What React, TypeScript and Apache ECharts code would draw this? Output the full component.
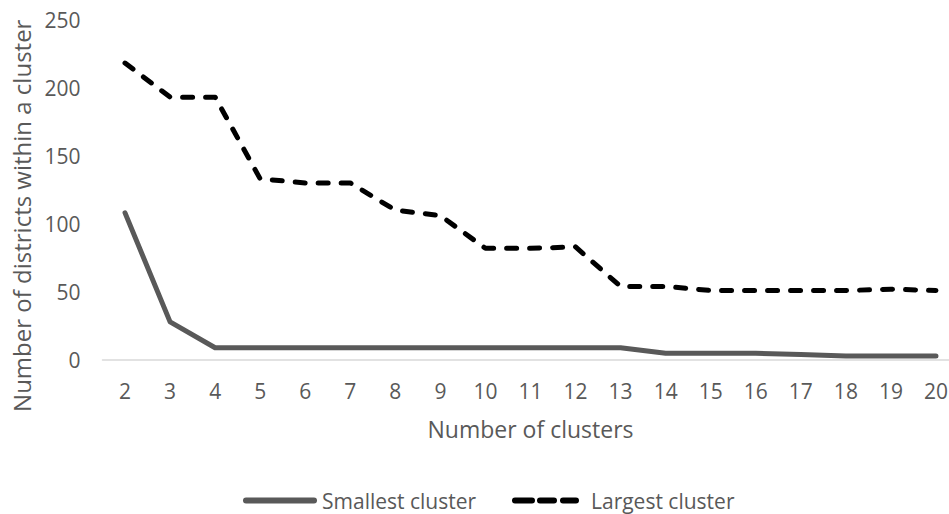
import React, { useEffect, useRef } from "react";
import * as echarts from "echarts";

const categories = ["2", "3", "4", "5", "6", "7", "8", "9", "10", "11", "12", "13", "14", "15", "16", "17", "18", "19", "20"];
const smallestCluster = [108, 28, 9, 9, 9, 9, 9, 9, 9, 9, 9, 9, 5, 5, 5, 4, 3, 3, 3];
const largestCluster = [218, 193, 193, 133, 130, 130, 110, 106, 82, 82, 83, 54, 54, 51, 51, 51, 51, 52, 51];
const yTicks = { min: 0, max: 250, interval: 50 };
const seriesNames = ["Smallest cluster", "Largest cluster"];

const FONT = "'Open Sans', sans-serif";
const TEXT = "#595959";

function seg(a: number, b: number, h: number) {
  const r = h / 2;
  return `M${a + r},0 L${b - r},0 A${r},${r} 0 0 1 ${b - r},${h} L${a + r},${h} A${r},${r} 0 0 1 ${a + r},0 Z`;
}

export default function App() {
  const ref = useRef<HTMLDivElement>(null);
  useEffect(() => {
    if (!ref.current) return;
    const chart = echarts.init(ref.current, null, { renderer: "svg" });
    const solidIcon = "path://" + seg(0, 74, 6);
    const dashIcon = "path://" + seg(0, 23, 6) + " " + seg(25, 45, 6) + " " + seg(48, 67, 6);
    chart.setOption({
      animation: false,
      textStyle: { fontFamily: FONT, color: TEXT },
      grid: { left: 102.5, right: -9.5, top: 19.5, bottom: 154, containLabel: false, outerBoundsMode: "none" },
      legend: [
        {
          left: 238,
          top: 485,
          itemWidth: 74,
          itemHeight: 6,
          textStyle: { fontFamily: FONT, fontSize: 21, color: TEXT },
          data: [{ name: seriesNames[0], icon: solidIcon, itemStyle: { color: "#595959" } }],
        },
        {
          left: 507,
          top: 485,
          itemWidth: 67,
          itemHeight: 6,
          textStyle: { fontFamily: FONT, fontSize: 21, color: TEXT, padding: [0, 0, 0, 7] },
          data: [{ name: seriesNames[1], icon: dashIcon, itemStyle: { color: "#000000" } }],
        },
      ],
      xAxis: {
        type: "category",
        data: categories,
        boundaryGap: true,
        name: "Number of clusters",
        nameLocation: "middle",
        nameGap: 57,
        nameTextStyle: { fontFamily: FONT, fontSize: 23, color: TEXT },
        axisLine: { lineStyle: { color: "#d9d9d9", width: 1.5 } },
        axisTick: { show: false },
        axisLabel: { fontFamily: FONT, fontSize: 21, color: TEXT, margin: 20 },
      },
      yAxis: {
        type: "value",
        min: yTicks.min,
        max: yTicks.max,
        interval: yTicks.interval,
        name: "Number of districts within a cluster",
        nameLocation: "middle",
        nameGap: 68,
        nameRotate: 90,
        nameTextStyle: { fontFamily: FONT, fontSize: 24, color: TEXT, padding: [0, 52, 0, 0] },
        axisLine: { show: false },
        axisTick: { show: false },
        splitLine: { show: false },
        axisLabel: { fontFamily: FONT, fontSize: 21, color: TEXT, margin: 22 },
      },
      series: [
        {
          name: seriesNames[0],
          type: "line",
          data: smallestCluster,
          symbol: "none",
          lineStyle: { color: "#595959", width: 5, cap: "round", join: "round" },
          itemStyle: { color: "#595959" },
        },
        {
          name: seriesNames[1],
          type: "line",
          data: largestCluster,
          symbol: "none",
          lineStyle: { color: "#000000", width: 5, type: [10, 13], cap: "round", join: "round" },
          itemStyle: { color: "#000000" },
        },
      ],
    });
    return () => chart.dispose();
  }, []);
  return (
    <div
      ref={ref}
      style={{ position: "fixed", left: 0, top: 0, width: 949, height: 514, background: "#fff" }}
    />
  );
}
